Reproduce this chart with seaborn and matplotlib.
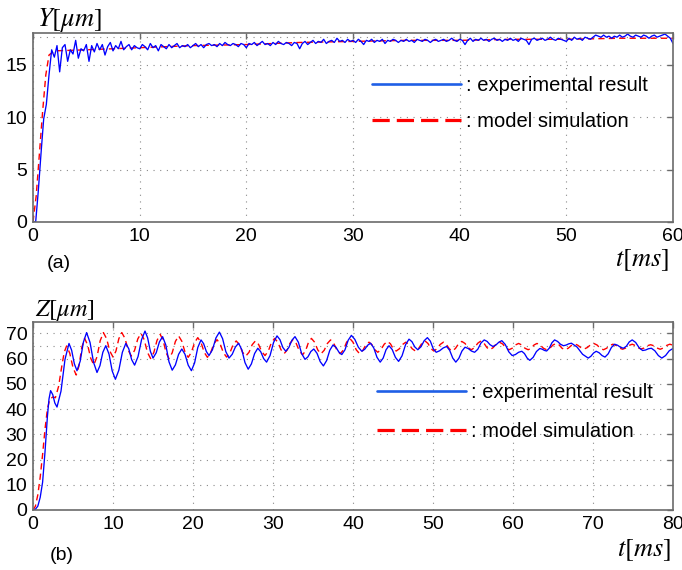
import numpy as np
import matplotlib
matplotlib.use("Agg")
import matplotlib.pyplot as plt
import seaborn as sns

# ---------------- data: panel (a) ----------------
y_time_exp = np.linspace(0, 60, 241)  # 0.25 ms sampling
y_exp = [
    0, 0, 3.0, 6.5, 9.8, 11.2, 14.0, 16.4, 15.7, 16.8, 14.3, 16.6, 16.9, 15.3, 16.4, 16.0, 17.3, 15.6, 16.5, 16.3,
    16.9, 15.3, 16.8, 16.2, 17.0, 16.4, 16.9, 15.9, 16.7, 17.1, 16.3, 16.8, 16.5, 17.2, 16.4, 16.7, 16.9, 16.4, 16.8, 16.6,
    16.5, 16.9, 16.7, 16.4, 17.0, 16.6, 16.8, 16.3, 16.9, 16.7, 16.5, 16.9, 16.6, 16.8, 17.0, 16.6, 16.8, 16.7, 16.9, 16.6,
    16.8, 17.0, 16.7, 16.9, 16.6, 16.9, 17.0, 16.8, 16.9, 16.7, 17.0, 16.8, 17.1, 16.9, 16.8, 17.0, 16.9, 16.7, 17.0, 16.9,
    16.6, 17.0, 16.9, 17.1, 16.8, 17.0, 17.2, 16.9, 17.0, 16.8, 17.1, 16.9, 17.2, 17.0, 16.9, 17.1, 17.0, 16.8, 17.1, 17.0,
    16.5, 17.0, 17.2, 16.9, 17.1, 17.3, 17.0, 17.2, 17.1, 17.4, 17.0, 17.2, 17.3, 17.1, 17.5, 17.2, 17.3, 17.1, 17.4, 17.2,
    17.3, 17.1, 17.4, 17.2, 16.9, 17.3, 17.2, 17.4, 17.1, 17.3, 17.2, 17.4, 17.0, 17.3, 17.2, 17.4, 17.3, 17.1, 17.3, 17.2,
    17.4, 17.2, 17.3, 17.1, 17.4, 17.3, 17.2, 17.4, 17.3, 17.1, 17.3, 17.4, 17.2, 17.3, 17.4, 17.2, 17.3, 17.5, 17.3, 17.2,
    17.4, 17.3, 16.9, 17.3, 17.5, 17.2, 17.4, 17.3, 17.5, 17.3, 17.4, 17.2, 17.4, 17.5, 17.3, 17.4, 17.2, 17.4, 17.3, 17.5,
    17.3, 17.4, 17.2, 17.5, 17.4, 17.3, 16.9, 17.4, 17.5, 17.3, 17.4, 17.5, 17.3, 17.4, 17.6, 17.4, 17.3, 17.5, 17.4, 17.3,
    17.2, 17.5, 17.3, 17.6, 17.4, 17.5, 17.3, 17.6, 17.5, 17.4, 17.6, 17.8, 17.7, 17.6, 17.8, 17.6, 17.7, 17.5, 17.7, 17.6,
    17.8, 17.6, 17.7, 17.9, 17.7, 17.6, 17.8, 17.7, 17.6, 17.8, 17.7, 17.5, 17.7, 17.8, 17.6, 17.7, 17.8, 17.9, 17.7, 17.5,
    17.0,
]
y_time_sim = [0, 0.3, 0.6, 0.9, 1.2, 1.5, 2, 5, 10, 15, 20, 25, 30, 35, 40, 45, 50, 55, 60]
y_sim = [0, 2.5, 6.5, 10.5, 14.0, 15.9, 16.3, 16.4, 16.6, 16.8, 16.9, 17.1, 17.2, 17.3, 17.3, 17.4, 17.4, 17.5, 17.5]

# ---------------- data: panel (b) ----------------
z_time_exp = [
    0, 0.3, 0.6, 0.9, 1.2, 1.5, 1.8, 2.0,
    2.2, 2.47, 2.73, 3.0, 3.5, 4.0, 4.5, 4.83, 5.17, 5.5, 5.9, 6.3,
    6.7, 7.13, 7.57, 8.0, 8.37, 8.73, 9.1, 9.5, 9.9, 10.3, 10.73, 11.17,
    11.6, 11.97, 12.33, 12.7, 13.13, 13.57, 14.0, 14.33, 14.67, 15.0, 15.4, 15.8,
    16.2, 16.6, 17.0, 17.4, 17.8, 18.2, 18.6, 19.0, 19.4, 19.8, 20.2, 20.6,
    21.0, 21.33, 21.67, 22.0, 22.43, 22.87, 23.3, 23.7, 24.1, 24.5, 24.9, 25.3,
    25.7, 26.1, 26.5, 26.9, 27.3, 27.7, 28.1, 28.47, 28.83, 29.2, 29.63, 30.07,
    30.5, 30.87, 31.23, 31.6, 31.98, 32.37, 32.75, 33.17, 33.58, 34.0, 34.37, 34.73,
    35.1, 35.5, 35.9, 36.3, 36.7, 37.1, 37.5, 37.87, 38.23, 38.6, 39.0, 39.4,
    39.8, 40.23, 40.67, 41.1, 41.47, 41.83, 42.2, 42.6, 43.0, 43.4, 43.77, 44.13,
    44.5, 44.9, 45.3, 45.7, 46.13, 46.57, 47.0, 47.37, 47.73, 48.1, 48.5, 48.9,
    49.3, 49.67, 50.03, 50.4, 50.83, 51.27, 51.7, 52.08, 52.47, 52.85, 53.23, 53.62,
    54.0, 54.4, 54.8, 55.2, 55.6, 56.0, 56.4, 56.77, 57.13, 57.5, 57.87, 58.23,
    58.6, 59.03, 59.47, 59.9, 60.3, 60.7, 61.1, 61.43, 61.77, 62.1, 62.52, 62.93,
    63.35, 63.63, 63.92, 64.2, 64.53, 64.87, 65.2, 65.57, 65.93, 66.3, 66.63, 66.97,
    67.3, 68.0, 68.7, 69.4, 69.73, 70.07, 70.4, 70.77, 71.13, 71.5, 71.9, 72.3,
    72.7, 73.07, 73.43, 73.8, 74.17, 74.53, 74.9, 75.33, 75.77, 76.2, 76.57, 76.93,
    77.3, 77.73, 78.17, 78.6, 79.07, 79.53, 80.0,
]
z_exp = [
    0, 0.3, 1.5, 5, 11, 23, 37, 44,
    47.3, 45.7, 42.4, 40.8, 47.1, 59.7, 66.0, 63.3, 57.9, 55.2, 59.0, 66.5,
    70.3, 66.4, 58.5, 54.5, 57.2, 62.5, 65.1, 61.8, 55.1, 51.8, 55.4, 62.5,
    66.0, 63.9, 59.6, 57.4, 60.8, 67.5, 70.9, 68.2, 62.9, 60.2, 62.3, 66.6,
    68.7, 65.4, 58.7, 55.4, 57.5, 61.7, 63.8, 61.7, 57.4, 55.2, 58.3, 64.4,
    67.4, 65.9, 62.8, 61.2, 63.5, 68.2, 70.5, 67.9, 62.8, 60.2, 61.7, 64.6,
    66.1, 63.5, 58.4, 55.8, 57.9, 62.0, 64.1, 62.7, 60.0, 58.6, 61.2, 66.4,
    69.0, 67.5, 64.4, 62.9, 64.4, 67.3, 68.7, 66.5, 62.0, 59.7, 60.7, 62.8,
    63.8, 62.1, 58.8, 57.1, 59.2, 63.3, 65.4, 64.5, 62.6, 61.6, 63.5, 67.3,
    69.2, 67.6, 64.5, 62.9, 63.7, 65.3, 66.1, 64.2, 60.5, 58.6, 60.2, 63.5,
    65.1, 63.6, 60.5, 58.9, 61.1, 65.5, 67.7, 66.7, 64.6, 63.5, 64.7, 67.1,
    68.3, 66.9, 63.9, 62.5, 63.1, 64.2, 64.8, 63.3, 60.2, 58.6, 60.1, 63.0,
    64.5, 64.0, 63.0, 62.5, 63.7, 66.2, 67.4, 66.8, 65.5, 64.8, 65.4, 66.5,
    67.1, 65.6, 62.7, 61.2, 61.6, 62.5, 62.9, 62.0, 60.2, 59.3, 60.5, 62.8,
    64.0, 63.75, 63.25, 63.0, 64.1, 66.3, 67.4, 66.8, 65.7, 65.1, 65.35, 65.85,
    66.1, 64.6, 61.7, 60.2, 60.9, 62.2, 62.9, 62.3, 61.2, 60.6, 61.9, 64.4,
    65.7, 65.3, 64.5, 64.1, 64.9, 66.6, 67.4, 66.4, 64.3, 63.2, 63.4, 63.9,
    64.1, 63.1, 61.2, 60.2, 61.2, 63.1, 64.0,
]
z_time_sim = [
    0, 0.3, 0.6, 0.9, 1.2, 1.5, 1.8, 2.1, 2.5, 2.8, 3.2, 3.6, 3.9,
    4.2, 4.6, 5.0, 5.4, 5.75, 6.1, 6.45, 6.83, 7.22, 7.6, 8.0, 8.4,
    8.8, 9.2, 9.6, 10.0, 10.37, 10.73, 11.1, 11.5, 11.9, 12.3, 12.7, 13.1,
    13.5, 13.9, 14.3, 14.7, 15.1, 15.5, 15.9, 16.27, 16.63, 17.0, 17.4, 17.8,
    18.2, 18.6, 19.0, 19.4, 19.8, 20.2, 20.6, 21.0, 21.4, 21.8, 22.2, 22.6,
    23.0, 23.4, 23.8, 24.2, 24.6, 25.0, 25.4, 25.8, 26.2, 26.6, 27.0, 27.4,
    27.8, 28.2, 28.6, 29.0, 29.4, 29.8, 30.2, 30.6, 31.0, 31.4, 31.77, 32.13,
    32.5, 32.9, 33.3, 33.7, 34.07, 34.43, 34.8, 35.2, 35.6, 36.0, 36.4, 36.8,
    37.2, 37.6, 38.0, 38.4, 38.8, 39.2, 39.6, 40.0, 40.4, 40.8, 41.2, 41.6,
    42.0, 42.37, 42.73, 43.1, 43.5, 43.9, 44.3, 44.67, 45.03, 45.4, 45.8, 46.2,
    46.6, 47.0, 47.4, 47.8, 48.2, 48.6, 49.0, 49.37, 49.73, 50.1, 50.5, 50.9,
    51.3, 51.67, 52.03, 52.4, 52.8, 53.2, 53.6, 54.0, 54.4, 54.8, 55.2, 55.6,
    56.0, 56.37, 56.73, 57.1, 57.5, 57.9, 58.3, 58.7, 59.1, 59.5, 59.9, 60.3,
    60.7, 61.1, 61.5, 61.9, 62.27, 62.63, 63.0, 63.4, 63.8, 64.2, 64.6, 65.0,
    65.4, 65.77, 66.13, 66.5, 66.9, 67.3, 67.7, 68.1, 68.5, 68.9, 69.3, 69.7,
    70.1, 70.5, 70.9, 71.3, 71.7, 72.1, 72.5, 72.9, 73.3, 73.7, 74.1, 74.5,
    74.9, 75.27, 75.63, 76.0, 76.4, 76.8, 77.2, 77.6, 78.0, 78.4, 78.8, 79.2,
    79.6, 80.0,
]
z_sim = [
    0, 1.5, 6, 13, 22, 32, 40, 44, 44.8, 44.5, 49, 57, 62.5,
    65.0, 62.1, 56.4, 53.5, 57.1, 64.4, 68.0, 65.4, 60.1, 57.5, 60.7, 67.1,
    70.3, 67.9, 63.0, 60.6, 63.0, 67.9, 70.3, 68.0, 63.3, 61.0, 63.3, 67.8,
    70.0, 67.5, 62.5, 60.0, 62.4, 67.2, 69.6, 67.2, 62.4, 60.0, 62.3, 66.8,
    69.0, 66.9, 62.6, 60.5, 62.5, 66.4, 68.3, 66.4, 62.5, 60.5, 62.3, 65.8,
    67.5, 65.8, 62.3, 60.6, 62.2, 65.4, 67.0, 65.5, 62.5, 61.0, 62.5, 65.5,
    67.0, 65.6, 62.7, 61.2, 62.9, 66.3, 68.0, 66.5, 63.5, 62.0, 63.4, 66.1,
    67.5, 66.0, 63.0, 61.5, 63.1, 66.4, 68.0, 66.5, 63.4, 61.9, 63.3, 66.0,
    67.4, 66.0, 63.3, 61.9, 63.4, 66.5, 68.0, 66.5, 63.5, 62.0, 63.1, 65.4,
    66.5, 65.5, 63.5, 62.5, 63.6, 65.7, 66.8, 65.9, 63.9, 63.0, 63.9, 65.6,
    66.5, 65.6, 63.9, 63.0, 64.0, 66.0, 67.0, 66.0, 64.0, 63.0, 63.9, 65.6,
    66.5, 65.6, 63.9, 63.0, 64.0, 65.9, 66.8, 66.0, 64.3, 63.5, 64.4, 66.1,
    67.0, 66.1, 64.4, 63.5, 64.3, 65.8, 66.5, 65.8, 64.3, 63.5, 64.1, 65.4,
    66.0, 65.4, 64.1, 63.5, 64.1, 65.4, 66.0, 65.4, 64.1, 63.5, 64.1, 65.4,
    66.0, 65.4, 64.1, 63.5, 64.1, 65.2, 65.8, 65.3, 64.3, 63.8, 64.4, 65.5,
    66.0, 65.4, 64.1, 63.5, 64.1, 65.2, 65.7, 65.2, 64.2, 63.7, 64.2, 65.2,
    65.7, 65.2, 64.3, 63.8, 64.2, 65.1, 65.5, 65.1, 64.2, 63.7, 64.2, 65.2,
    65.7, 65.3,
]

labels = [": experimental result", ": model simulation"]
x_ticks_a = [0, 10, 20, 30, 40, 50, 60]
y_ticks_a = [0, 5, 10, 15]
x_ticks_b = [0, 10, 20, 30, 40, 50, 60, 70, 80]
y_ticks_b = [0, 10, 20, 30, 40, 50, 60, 70]

# ---------------- style ----------------
sns.set_style("white")
plt.rcParams['font.family'] = ['Liberation Sans', 'DejaVu Sans']
plt.rcParams['mathtext.fontset'] = 'stix'
plt.rcParams['text.color'] = 'black'

W, H = 682, 570
fig = plt.figure(figsize=(W / 100, H / 100), dpi=100)
ax1 = fig.add_axes([33 / W, 1 - 222 / H, 640 / W, 189 / H])
ax2 = fig.add_axes([33 / W, 1 - 510 / H, 640 / W, 188 / H])

SPINE = '#6b6b6b'
GRID = '#8a8a8a'


def style_axes(ax, xmax, ymax, xt, yt, extra):
    ax.set_xlim(0, xmax)
    ax.set_ylim(0, ymax)
    ax.set_xticks(xt)
    ax.set_yticks(yt)
    ax.grid(True, linestyle=(0, (1, 5)), color=GRID, linewidth=0.8)
    ax.axhline(extra, linestyle=(0, (1, 5)), color=GRID, linewidth=0.8, zorder=0.5)
    ax.set_axisbelow(True)
    for s in ax.spines.values():
        s.set_visible(True)
        s.set_color(SPINE)
        s.set_linewidth(1.2)
    ax.tick_params(direction='in', length=4, width=1, color=SPINE, top=True, right=True,
                   labelsize=14, labelcolor='black', pad=4)
    ax.set_xlabel('')
    ax.set_ylabel('')


def draw(ax, tx, vx, ts, vs, anchor, spacing):
    sns.lineplot(x=ts, y=vs, ax=ax, color='#ff0000', linewidth=1.0, legend=False,
                 sort=False, estimator=None)
    red = ax.lines[-1]
    red.set_dashes([4.5, 3])
    sns.lineplot(x=tx, y=vx, ax=ax, color='#0000ff', linewidth=0.95, legend=False,
                 sort=False, estimator=None)
    blue = ax.lines[-1]
    leg = ax.legend([blue, red], labels, loc='center left', bbox_to_anchor=anchor,
                    frameon=False, fontsize=14.5, handlelength=4.4, handletextpad=0.25,
                    borderpad=0, borderaxespad=0, labelspacing=spacing)
    for txt in leg.get_texts():
        txt.set_color('black')
    hb, hr = leg.legend_handles
    hb.set_linewidth(1.9)
    hb.set_color('#1f5fe6')
    hr.set_linewidth(2.3)
    hr.set_dashes([5.4, 2.2])


draw(ax1, y_time_exp, y_exp, y_time_sim, y_sim, ((372 - 33) / 640, 1 - (103.5 - 33) / 189), 0.82)
style_axes(ax1, 60, 18, x_ticks_a, y_ticks_a, 17.6)
draw(ax2, z_time_exp, z_exp, z_time_sim, z_sim, ((377 - 33) / 640, 1 - (412 - 322) / 188), 1.0)
style_axes(ax2, 80, 74.5, x_ticks_b, y_ticks_b, 65)

fig.text(37 / W, 1 - 26 / H, r'$Y[\mu m]$', fontsize=19, va='baseline')
fig.text(35 / W, 1 - 316 / H, r'$Z[\mu m]$', fontsize=17.5, va='baseline')
fig.text(615 / W, 1 - 266 / H, r'$t[ms]$', fontsize=19, va='baseline')
fig.text(617 / W, 1 - 556 / H, r'$t[ms]$', fontsize=19, va='baseline')
fig.text(59 / W, 1 - 263 / H, '(a)', fontsize=14, ha='center', va='center')
fig.text(62 / W, 1 - 556 / H, '(b)', fontsize=14, ha='center', va='center')

fig.savefig('out.png', dpi=100)
